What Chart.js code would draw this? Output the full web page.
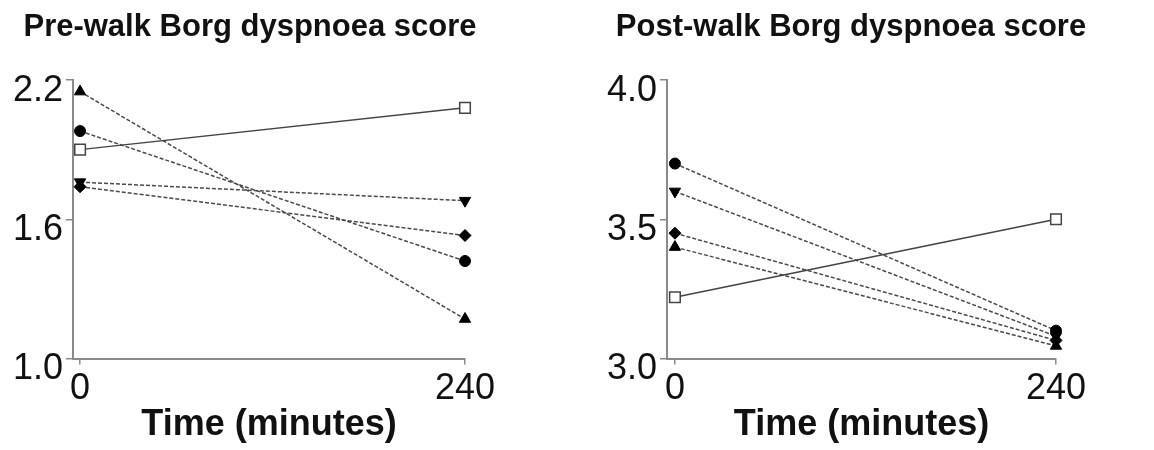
<!DOCTYPE html>
<html>
<head>
<meta charset="utf-8">
<script src="https://cdn.jsdelivr.net/npm/chart.js@4.4.1/dist/chart.umd.min.js"></script>
<style>
  html, body { margin: 0; padding: 0; background: #fff; }
  body { width: 1154px; height: 450px; position: relative; overflow: hidden; }
  .panel { position: absolute; top: 0; height: 450px; }
  #prePanel { left: 0; width: 500px; }
  #postPanel { left: 590px; width: 522px; }
</style>
</head>
<body>
<div class="panel" id="prePanel"><canvas id="preChart"></canvas></div>
<div class="panel" id="postPanel"><canvas id="postChart"></canvas></div>
<script>
const timePoints = [0, 240];
const xTicks = [0, 240];

// pre-walk scores
const preSquare = [1.90, 2.08];
const preCircle = [1.98, 1.42];
const preUp = [2.15, 1.17];
const preDown = [1.76, 1.68];
const preDiamond = [1.74, 1.53];
const preTicks = [1.0, 1.6, 2.2];

// post-walk scores
const postSquare = [3.22, 3.50];
const postCircle = [3.70, 3.10];
const postDown = [3.60, 3.08];
const postDiamond = [3.45, 3.065];
const postUp = [3.40, 3.045];
const postTicks = [3.0, 3.5, 4.0];

const axisGray = '#8a8a8a';
const lineGray = '#4a4a4a';
const fontFamily = '"Liberation Sans", Arial, Helvetica, sans-serif';

function toPoints(values) {
    return timePoints.map((t, i) => ({ x: t, y: values[i] }));
}

function dashed(values, style, radius, rotation) {
    return {
        data: toPoints(values),
        clip: false,
        borderColor: lineGray,
        borderWidth: 1.5,
        borderDash: [4, 2],
        pointStyle: style,
        pointRotation: rotation || 0,
        pointRadius: radius,
        pointBackgroundColor: '#000',
        pointBorderColor: '#000',
        pointBorderWidth: 1
    };
}

function openSquare(values) {
    return {
        data: toPoints(values),
        clip: false,
        borderColor: '#444',
        borderWidth: 1.5,
        pointStyle: 'rect',
        pointRadius: 7.5,
        pointBackgroundColor: '#fff',
        pointBorderColor: '#444',
        pointBorderWidth: 1.5
    };
}

function makePanel(canvasId, title, sets, yTicks, xMin, yAxisWidth, rightPad) {
    new Chart(document.getElementById(canvasId), {
        type: 'line',
        data: { datasets: sets },
        options: {
            responsive: true,
            maintainAspectRatio: false,
            animation: false,
            layout: { padding: { left: 0, right: 0, top: 0, bottom: 6.5 } },
            elements: { line: { tension: 0 } },
            plugins: {
                legend: { display: false },
                tooltip: { enabled: false },
                title: {
                    display: true,
                    text: title,
                    color: '#111',
                    font: { family: fontFamily, size: 31, weight: 'bold', lineHeight: 1 },
                    padding: { top: 12, bottom: 37 }
                }
            },
            scales: {
                x: {
                    type: 'linear',
                    min: xMin,
                    max: 240,
                    afterBuildTicks: axis => { axis.ticks = xTicks.map(v => ({ value: v })); },
                    afterFit: scale => { scale.paddingRight = rightPad; },
                    grid: { drawOnChartArea: false, drawTicks: true, tickLength: 6, color: axisGray, lineWidth: 1.5 },
                    border: { display: true, color: axisGray, width: 2 },
                    ticks: {
                        color: '#111',
                        padding: 6.5,
                        maxRotation: 0,
                        autoSkip: false,
                        font: { family: fontFamily, size: 36, lineHeight: 1 }
                    },
                    title: {
                        display: true,
                        text: 'Time (minutes)',
                        color: '#111',
                        padding: { top: -6, bottom: 0 },
                        font: { family: fontFamily, size: 36, weight: 'bold', lineHeight: 1 }
                    }
                },
                y: {
                    min: yTicks[0],
                    max: yTicks[yTicks.length - 1],
                    afterBuildTicks: axis => { axis.ticks = yTicks.map(v => ({ value: v })); },
                    afterFit: scale => { scale.width = yAxisWidth; },
                    grid: { drawOnChartArea: false, drawTicks: true, tickLength: 7, color: axisGray, lineWidth: 1.5 },
                    border: { display: true, color: axisGray, width: 2 },
                    ticks: {
                        color: '#111',
                        padding: 3,
                        labelOffset: 11,
                        callback: v => v.toFixed(1),
                        font: { family: fontFamily, size: 36, lineHeight: 1 }
                    }
                }
            }
        }
    });
}

makePanel('preChart', 'Pre-walk Borg dyspnoea score', [
    openSquare(preSquare),
    dashed(preCircle, 'circle', 5.5),
    dashed(preUp, 'triangle', 6.5),
    dashed(preDown, 'triangle', 6.5, 180),
    dashed(preDiamond, 'rectRot', 6)
], preTicks, -4.4, 73, 35);

makePanel('postChart', 'Post-walk Borg dyspnoea score', [
    openSquare(postSquare),
    dashed(postCircle, 'circle', 5.5),
    dashed(postDown, 'triangle', 6.5, 180),
    dashed(postDiamond, 'rectRot', 6),
    dashed(postUp, 'triangle', 6.5)
], postTicks, -5, 77, 56);
</script>
</body>
</html>
